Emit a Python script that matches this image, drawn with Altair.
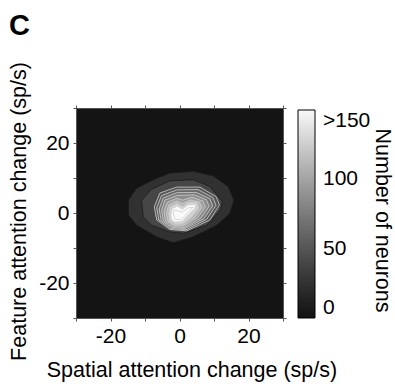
import altair as alt
import pandas as pd

# Contour levels (number of neurons) and the grey value used to fill each band
levels = [15, 30, 45, 60, 75, 90, 105, 120, 135, 150, 165]
band_shades = [25, 40, 50, 62, 74, 86, 98, 112, 128, 150, 175]

# Closed contour outlines, (spatial change, feature change) in sp/s
ring_15 = [(-14.8, 3.7), (-12.4, 7.1), (-7.6, 9.5), (-2.8, 11.4), (4.0, 11.9), (9.8, 10.6),
           (14.1, 7.6), (15.8, 3.7), (14.6, -0.1), (10.8, -3.5), (4.0, -6.8), (-1.8, -8.5),
           (-6.6, -6.8), (-12.4, -3.5), (-14.8, -0.6)]
ring_30 = [(-11.0, 3.7), (-8.1, 6.8), (-2.8, 9.2), (4.0, 9.5), (8.8, 7.6), (12.4, 3.3),
           (11.9, 0.9), (7.9, -3.5), (1.1, -5.8), (-2.8, -5.4), (-8.1, -3.5), (-10.5, -1.1)]
ring_45 = [(-7.3, 1.8), (-5.7, 5.7), (-0.8, 7.4), (5.9, 7.4), (10.6, 4.7), (11.6, 2.3),
           (8.8, -2.0), (2.1, -5.1), (-2.8, -4.7), (-6.6, -2.0)]
ring_60 = [(-6.6, 1.5), (-5.2, 5.0), (-0.8, 6.6), (5.4, 6.7), (9.7, 4.4), (10.6, 2.2),
           (7.9, -1.8), (1.9, -4.8), (-2.5, -4.5), (-6.0, -2.0)]
ring_75 = [(-5.9, 1.1), (-4.7, 4.3), (-0.8, 5.8), (4.8, 5.9), (8.8, 4.1), (9.6, 2.0),
           (7.0, -1.7), (1.7, -4.4), (-2.3, -4.2), (-5.3, -2.1)]
ring_90 = [(-5.2, 0.8), (-4.2, 3.7), (-0.8, 5.0), (4.3, 5.2), (7.8, 3.8), (8.6, 1.9),
           (6.2, -1.5), (1.6, -4.1), (-2.0, -4.0), (-4.7, -2.1)]
ring_105 = [(-4.5, 0.5), (-3.6, 3.0), (-0.8, 4.2), (0.9, 3.7), (3.7, 4.5), (6.8, 3.4),
            (7.5, 1.7), (5.3, -1.3), (1.4, -3.7), (-1.7, -3.7), (-4.1, -2.1)]
ring_120 = [(-3.8, 0.1), (-3.1, 2.3), (-0.8, 3.4), (0.9, 2.7), (3.2, 3.7), (5.8, 3.1),
            (6.5, 1.6), (4.5, -1.2), (1.2, -3.4), (-1.5, -3.5), (-3.4, -2.2)]
ring_135 = [(-3.1, -0.2), (-2.7, 1.7), (-0.8, 2.7), (0.9, 1.8), (2.6, 3.0), (5.0, 3.0),
            (5.5, 1.4), (3.6, -1.0), (1.0, -3.0), (-1.2, -3.2), (-2.8, -2.2)]
ring_150 = [(-2.5, -0.6), (-2.2, 1.2), (-0.6, 2.0), (0.8, 1.1), (2.4, 2.3), (4.8, 2.5),
            (4.4, 1.2), (2.4, -0.6), (0.8, -2.4), (-1.5, -2.6), (-2.3, -1.7)]
ring_165 = [(-1.8, -0.3), (-1.6, 0.9), (0.8, 0.3), (2.6, 1.5), (4.0, 1.7), (2.0, -0.3),
            (0.6, -1.8), (-1.2, -1.9)]

rings = [ring_15, ring_30, ring_45, ring_60, ring_75, ring_90,
         ring_105, ring_120, ring_135, ring_150, ring_165]

axis_ticks = [-30, -20, -10, 0, 10, 20, 30]
colorbar_ticks = [0, 50, 100, 150]

rows = []
for lvl, shade, ring in zip(levels, band_shades, rings):
    for i, (x, y) in enumerate(ring):
        rows.append({"level": lvl, "shade": shade, "i": i, "x": x, "y": y})
df = pd.DataFrame(rows)

FONT = "Liberation Sans"
FS = 21
TFS = 21.5

xscale = alt.Scale(domain=[-30, 30], nice=False, zero=False)
yscale = alt.Scale(domain=[-30, 30], nice=False, zero=False)
fill_scale = alt.Scale(domain=[0, 150], range=["#111111", "#f9f9f9"], clamp=True)

label_expr = ("datum.value == -20 ? '-20' : datum.value == 0 ? '0' : "
              "datum.value == 20 ? '20' : ''")

x_axis = alt.Axis(values=axis_ticks, labelExpr=label_expr, grid=False,
                  title="Spatial attention change (sp/s)",
                  titleX=115.5, titleY=58.5, titleBaseline="alphabetic",
                  titleAlign="center")
y_axis = alt.Axis(values=axis_ticks, labelExpr=label_expr, grid=False,
                  title="Feature attention change (sp/s)",
                  titleX=-50.5, titleY=103, titleAngle=270,
                  titleBaseline="alphabetic", titleAlign="center")

legend = alt.Legend(
    title=None, orient="none", legendX=222, legendY=2,
    direction="vertical", gradientLength=208, gradientThickness=17,
    values=colorbar_ticks,
    labelExpr="datum.value >= 150 ? '>150' : datum.label",
    labelOffset=8, labelBaseline="middle", labelFontSize=FS, labelFont=FONT,
    labelColor="black",
    gradientStrokeColor="black", gradientStrokeWidth=1, padding=0,
)

band_layers = []
for lvl in levels:
    # outer bands have dark edges; the inner contour lines are drawn light
    edge = "#1a1a1a" if lvl < 45 else "#cfcfcf"
    band_layers.append(
        alt.Chart(df)
        .transform_filter(alt.datum.level == lvl)
        .mark_line(interpolate="linear-closed", stroke=edge, strokeWidth=0.8)
        .encode(
            x=alt.X("x:Q", scale=xscale, axis=x_axis),
            y=alt.Y("y:Q", scale=yscale, axis=y_axis),
            fill=alt.Fill("shade:Q", scale=fill_scale, legend=legend),
            order=alt.Order("i:Q"),
        )
    )
bands = alt.layer(*band_layers)

# Mirrored tick marks on the top and right edges; the right one carries the colour-bar title
frame = alt.Chart(df).mark_point(opacity=0).encode(
    x=alt.X("x:Q", scale=xscale,
            axis=alt.Axis(orient="top", values=axis_ticks, labels=False,
                          title=None, grid=False)),
    y=alt.Y("y:Q", scale=yscale,
            axis=alt.Axis(orient="right", values=axis_ticks, labels=False,
                          grid=False, title="Number of neurons",
                          titleX=92, titleY=112, titleAngle=90,
                          titleBaseline="alphabetic", titleAlign="center")),
)

chart = (
    alt.layer(bands, frame)
    .resolve_axis(x="independent", y="independent")
    .properties(
        width=207, height=210,
        autosize=alt.AutoSizeParams(type="none"),
        padding={"left": 76, "top": 108, "right": 112, "bottom": 69},
        title=alt.TitleParams("C", anchor="start", frame="group", fontSize=29,
                              fontWeight="bold", font=FONT, color="black",
                              dx=-67, dy=32, offset=30, baseline="alphabetic"),
    )
    .configure_view(fill="#141414", stroke=None)
    .configure_axis(labelFont=FONT, titleFont=FONT, labelFontSize=FS,
                    titleFontSize=TFS, titleFontWeight="normal",
                    labelColor="black", titleColor="black",
                    domainColor="#555555", tickColor="#555555",
                    tickSize=3, labelPadding=4, domainWidth=1)
)

chart.save("out.html", embed_options={"renderer": "svg", "actions": False})
